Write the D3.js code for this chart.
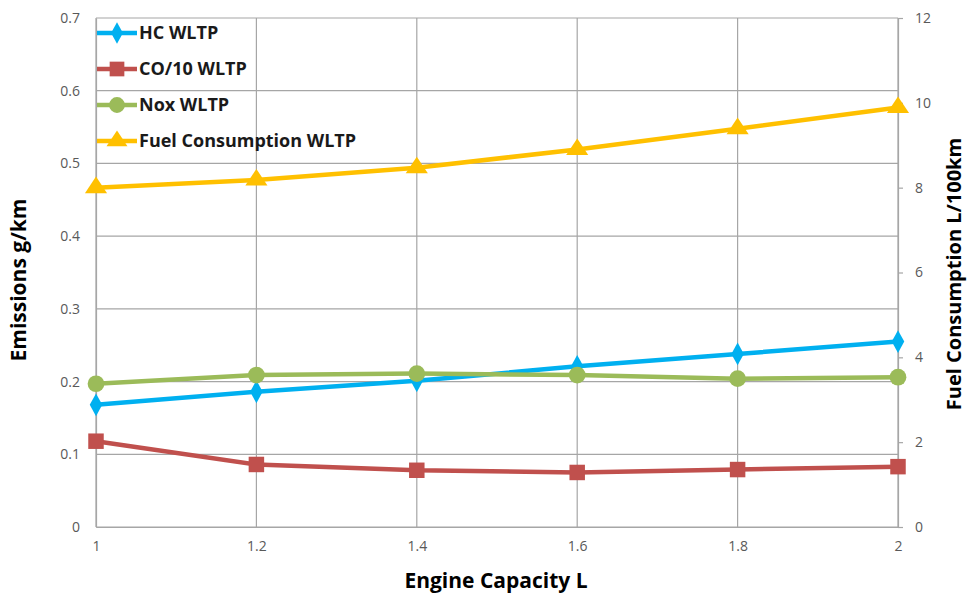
<!DOCTYPE html>
<html>
<head>
<meta charset="utf-8">
<script src="https://cdn.jsdelivr.net/npm/d3@7"></script>
<style>
  html, body { margin: 0; padding: 0; background: #fff; }
  svg { display: block; }
</style>
</head>
<body>
<svg id="chart" width="969" height="599"></svg>
<script>
// Engine capacity (L)
const capacities = [1, 1.2, 1.4, 1.6, 1.8, 2];
// Emissions, g/km (left axis)
const hcWltp  = [0.168, 0.186, 0.201, 0.221, 0.238, 0.255];
const coWltp  = [0.118, 0.086, 0.078, 0.075, 0.079, 0.083];
const noxWltp = [0.197, 0.209, 0.211, 0.209, 0.204, 0.206];
// Fuel consumption, L/100km (right axis)
const fuelWltp = [8.0, 8.18, 8.47, 8.9, 9.39, 9.89];

const xTicks = [1, 1.2, 1.4, 1.6, 1.8, 2];
const leftTicks = [0, 0.1, 0.2, 0.3, 0.4, 0.5, 0.6, 0.7];
const rightTicks = [0, 2, 4, 6, 8, 10, 12];

const series = [
  { name: "HC WLTP", values: hcWltp, axis: "left", color: "#00B0F0", symbol: d3.symbolDiamond, size: 150, sx: 0.95 },
  { name: "CO/10 WLTP", values: coWltp, axis: "left", color: "#C0504D", symbol: d3.symbolSquare, size: 240, sx: 1 },
  { name: "Nox WLTP", values: noxWltp, axis: "left", color: "#9BBB59", symbol: d3.symbolCircle, size: 220, sx: 1 },
  { name: "Fuel Consumption WLTP", values: fuelWltp, axis: "right", color: "#FFC000", symbol: d3.symbolTriangle, size: 160, sx: 1.15 }
];

const margin = { left: 96, right: 71, top: 18, bottom: 72 };
const W = 969, H = 599;
const svg = d3.select("#chart");

const x = d3.scaleLinear().domain([1, 2]).range([margin.left, W - margin.right]);
const yL = d3.scaleLinear().domain([0, 0.7]).range([H - margin.bottom, margin.top]);
const yR = d3.scaleLinear().domain([0, 12]).range([H - margin.bottom, margin.top]);

const gridColor = "#a6a6a6";
const tickText = "#595959";
const font = "'Open Sans', Lato, sans-serif";

// gridlines
const grid = svg.append("g");
grid.selectAll("line.h").data(leftTicks).join("line")
  .attr("x1", x(1)).attr("x2", x(2))
  .attr("y1", d => yL(d)).attr("y2", d => yL(d))
  .attr("stroke", gridColor).attr("stroke-width", 1.2);
grid.selectAll("line.v").data(xTicks).join("line")
  .attr("x1", d => x(d)).attr("x2", d => x(d))
  .attr("y1", yL(0)).attr("y2", yL(0.7))
  .attr("stroke", gridColor).attr("stroke-width", 1.2);

// axes
const axisBottom = d3.axisBottom(x).tickValues(xTicks).tickSize(0).tickPadding(14)
  .tickFormat(d => d3.format("")(+d.toFixed(1)));
const axisLeft = d3.axisLeft(yL).tickValues(leftTicks).tickSize(0).tickPadding(16)
  .tickFormat(d => d === 0 ? "0" : d3.format(".1f")(d));
const axisRight = d3.axisRight(yR).tickValues(rightTicks).tickSize(5).tickPadding(12);

function styleAxis(g) {
  g.selectAll(".domain").attr("stroke", gridColor).attr("stroke-width", 1.2);
  g.selectAll(".tick line").attr("stroke", gridColor).attr("stroke-width", 1.2);
  g.selectAll(".tick text").attr("fill", tickText).style("font-family", font).style("font-size", "14px");
}
svg.append("g").attr("transform", `translate(0,${yL(0)})`).call(axisBottom).call(styleAxis);
svg.append("g").attr("transform", `translate(${x(1)},0)`).call(axisLeft).call(styleAxis);
svg.append("g").attr("transform", `translate(${x(2)},0)`).call(axisRight).call(styleAxis);

// series lines and markers
series.forEach(s => {
  const yS = s.axis === "left" ? yL : yR;
  const line = d3.line().x((d, i) => x(capacities[i])).y(d => yS(d));
  svg.append("path").datum(s.values)
    .attr("d", line).attr("fill", "none")
    .attr("stroke", s.color).attr("stroke-width", 4.5)
    .attr("stroke-linejoin", "round");
  svg.append("g").selectAll("path").data(s.values).join("path")
    .attr("d", d3.symbol().type(s.symbol).size(s.size))
    .attr("transform", (d, i) => `translate(${x(capacities[i])},${yS(d)}) scale(${s.sx},1)`)
    .attr("fill", s.color);
});

// legend
const legend = svg.append("g");
const legendRows = [33, 69, 105, 141];
series.forEach((s, i) => {
  const g = legend.append("g").attr("transform", `translate(0,${legendRows[i]})`);
  g.append("line").attr("x1", 97).attr("x2", 137).attr("y1", 0).attr("y2", 0)
    .attr("stroke", s.color).attr("stroke-width", 4.5);
  g.append("path")
    .attr("d", d3.symbol().type(s.symbol).size(s.size * 0.9))
    .attr("transform", `translate(117,0) scale(${s.sx},1)`)
    .attr("fill", s.color);
  g.append("text").attr("x", 139).attr("y", 0).attr("dy", "0.36em")
    .style("font-family", font).style("font-weight", "bold").style("font-size", "18px")
    .attr("fill", "#1a1a1a").text(s.name);
});

// axis titles
const titleStyle = t => t.style("font-family", font).style("font-weight", "bold")
  .style("font-size", "20px").attr("fill", "#000").attr("text-anchor", "middle");
svg.append("text").attr("x", 496).attr("y", 588).text("Engine Capacity L")
  .call(titleStyle).style("font-size", "21px");
svg.append("text").attr("transform", `translate(26,280) rotate(-90)`)
  .text("Emissions g/km").call(titleStyle).style("font-size", "21px");
svg.append("text").attr("transform", `translate(961,274) rotate(-90)`)
  .text("Fuel Consumption L/100km").call(titleStyle);
</script>
</body>
</html>
